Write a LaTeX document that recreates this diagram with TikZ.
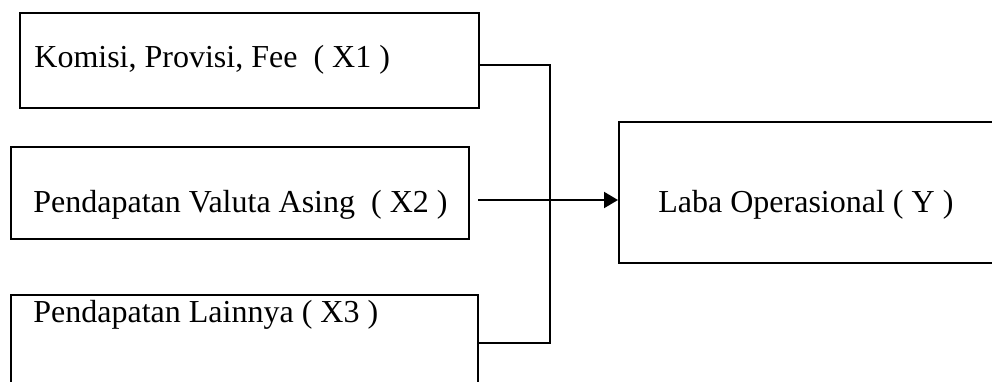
\documentclass[tikz,border=0pt]{standalone}
\usepackage{fontspec}
\setmainfont{Liberation Serif}
\usetikzlibrary{arrows.meta,calc}
\begin{document}
\begin{tikzpicture}[x=0.5pt,y=-0.5pt,
  boxnode/.style={draw=black,line width=1pt,rectangle,inner sep=0pt,anchor=north west},
  lbl/.style={inner sep=0pt,anchor=base west,font=\fontsize{16}{19}\selectfont},
  conn/.style={draw=black,line width=1pt}]
\useasboundingbox (0,0) rectangle (992,381);
\clip (0,0) rectangle (992,381);
\node[boxnode,minimum width=229.5pt,minimum height=47.5pt] (b1) at (19,12) {};
\node[boxnode,minimum width=229pt,minimum height=46pt] (b2) at (10,146) {};
\node[boxnode,minimum width=233.5pt,minimum height=60pt] (b3) at (10,294) {};
\node[boxnode,minimum width=200pt,minimum height=70.5pt] (y) at (618,121) {};
\node[lbl] (t1) at (34,67) {Komisi, Provisi, Fee \ ( X1 )};
\node[lbl] (t2) at (33,212) {Pendapatan Valuta Asing \ ( X2 )};
\node[lbl] (t3) at (33,322) {Pendapatan Lainnya ( X3 )};
\node[lbl] (ty) at (658,212) {Laba Operasional ( Y )};
\coordinate (j1) at (550,65);
\coordinate (j3) at (550,343);
\coordinate (a0) at (478,200);
\draw[conn] (b1.east |- j1) -- (j1) -- (j3) -- (b3.east |- j3);
\draw[conn,-{Triangle[length=7pt,width=8pt]}] (a0) -- (y.west |- a0);
\end{tikzpicture}
\end{document}
